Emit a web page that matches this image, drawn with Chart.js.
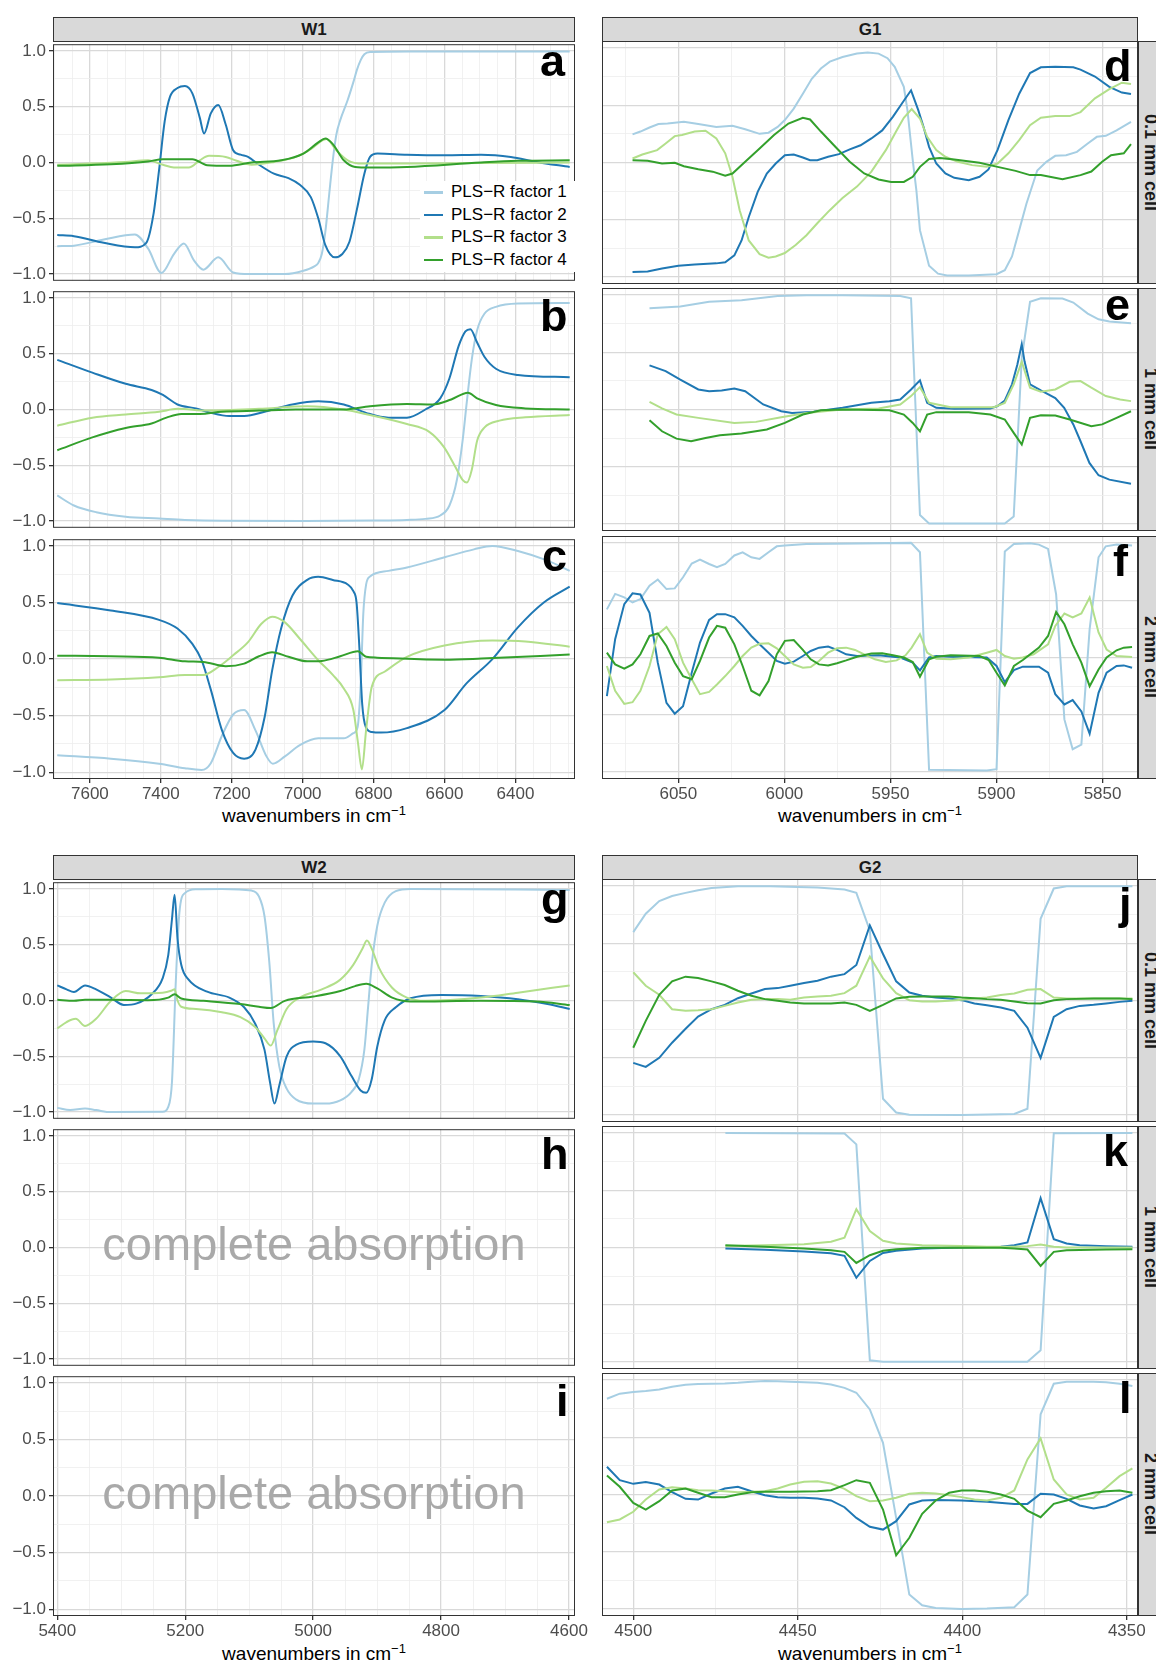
<!DOCTYPE html>
<html lang="en">
<head>
<meta charset="UTF-8">
<title>PLS-R factors</title>
<script src="https://cdn.jsdelivr.net/npm/chart.js"></script>
<style>
  body { margin: 0; width: 1156px; height: 1664px; position: relative; overflow: hidden; background: #fff;
         font-family: "Liberation Sans", Arial, sans-serif; }
  canvas { position: absolute; }
  .strip { position: absolute; background: #d9d9d9; border: 1px solid #333; box-sizing: border-box; color: #1a1a1a;
           font-weight: bold; font-size: 17px; display: flex; align-items: center; justify-content: center; }
  .side { writing-mode: vertical-rl; width: 24px; height: 243px; left: 1138px; font-size: 18px; }
  .xtitle { position: absolute; font-size: 19px; color: #000; transform: translate(-50%, -50%); white-space: nowrap; }
  .xtitle sup { font-size: 13px; }
  .legend { position: absolute; left: 420px; top: 181px; width: 155px; height: 91px; background: #fff; z-index: 5; }
  .legend div { height: 22.6px; display: flex; align-items: center; font-size: 17px; color: #000; }
  .legend span { display: inline-block; width: 19px; height: 2.5px; margin: 0 8px 0 4px; }
</style>
</head>
<body>

<div class="strip" style="left:53px; top:17px; width:522px; height:25px;">W1</div>
<div class="strip" style="left:602px; top:17px; width:536px; height:25px;">G1</div>
<div class="strip" style="left:53px; top:855px; width:522px; height:25px;">W2</div>
<div class="strip" style="left:602px; top:855px; width:536px; height:25px;">G2</div>

<div class="strip side" style="top:41px;">0.1 mm cell</div>
<div class="strip side" style="top:288px;">1 mm cell</div>
<div class="strip side" style="top:536px;">2 mm cell</div>
<div class="strip side" style="top:879px;">0.1 mm cell</div>
<div class="strip side" style="top:1126px;">1 mm cell</div>
<div class="strip side" style="top:1373px;">2 mm cell</div>

<div class="legend">
  <div><span style="background:#a6cee3"></span>PLS−R factor 1</div>
  <div><span style="background:#1f78b4"></span>PLS−R factor 2</div>
  <div><span style="background:#b2df8a"></span>PLS−R factor 3</div>
  <div><span style="background:#33a02c"></span>PLS−R factor 4</div>
</div>

<div class="xtitle" style="left:314px; top:815px;">wavenumbers in cm<sup>−1</sup></div>
<div class="xtitle" style="left:870px; top:815px;">wavenumbers in cm<sup>−1</sup></div>
<div class="xtitle" style="left:314px; top:1653px;">wavenumbers in cm<sup>−1</sup></div>
<div class="xtitle" style="left:870px; top:1653px;">wavenumbers in cm<sup>−1</sup></div>

<script>
// series colours (PLS-R factor 1..4)
const colors = ['#a6cee3', '#1f78b4', '#b2df8a', '#33a02c'];

// tick labels
const w1Labels = [7600, 7400, 7200, 7000, 6800, 6600, 6400];
const g1Labels = [6050, 6000, 5950, 5900, 5850];
const w2Labels = [5400, 5200, 5000, 4800, 4600];
const g2Labels = [4500, 4450, 4400, 4350];
const yLabels = [-1, -0.5, 0, 0.5, 1];

// W1, 0.1 mm cell (a)
const a1 = [[7692,-0.75],[7645,-0.745],[7561,-0.69],[7473,-0.645],[7436,-0.77],[7398,-0.99],[7363,-0.82],[7335,-0.725],[7306,-0.88],[7280,-0.96],[7238,-0.85],[7196,-0.985],[7150,-1.0],[7050,-1.0],[6998,-0.97],[6967,-0.93],[6956,-0.9],[6946,-0.82],[6936,-0.62],[6925,-0.28],[6915,0.02],[6905,0.25],[6894,0.38],[6873,0.56],[6857,0.72],[6847,0.83],[6836,0.92],[6826,0.97],[6810,0.99],[6700,0.995],[6500,0.995],[6247,0.995]];
const a2 = [[7692,-0.65],[7645,-0.66],[7561,-0.72],[7473,-0.76],[7441,-0.72],[7421,-0.47],[7405,-0.07],[7389,0.37],[7374,0.59],[7353,0.667],[7332,0.685],[7311,0.62],[7290,0.4],[7278,0.26],[7259,0.44],[7238,0.515],[7217,0.34],[7196,0.11],[7175,0.07],[7154,0.05],[7123,-0.02],[7081,-0.1],[7040,-0.14],[7008,-0.2],[6977,-0.31],[6956,-0.5],[6936,-0.74],[6909,-0.85],[6888,-0.82],[6868,-0.71],[6847,-0.42],[6826,-0.1],[6810,0.05],[6789,0.08],[6706,0.07],[6600,0.065],[6497,0.07],[6413,0.05],[6341,0.005],[6247,-0.04]];
const a3 = [[7692,-0.02],[7600,-0.01],[7500,0.005],[7436,0.02],[7394,-0.02],[7363,-0.045],[7321,-0.045],[7290,0.02],[7264,0.06],[7217,0.05],[7186,0.015],[7144,-0.02],[7081,0.005],[7019,0.05],[6977,0.12],[6946,0.195],[6933,0.21],[6905,0.11],[6873,0.02],[6831,-0.01],[6700,-0.01],[6500,-0.005],[6247,0.0]];
const a4 = [[7692,-0.03],[7541,-0.015],[7436,0.01],[7394,0.03],[7311,0.03],[7269,-0.025],[7207,-0.03],[7144,0.0],[7060,0.02],[6998,0.08],[6956,0.18],[6936,0.215],[6915,0.165],[6884,0.02],[6852,-0.04],[6810,-0.045],[6706,-0.04],[6497,0.0],[6393,0.015],[6247,0.02]];

// W1, 1 mm cell (b)
const b1 = [[7692,-0.77],[7645,-0.86],[7582,-0.92],[7499,-0.96],[7405,-0.977],[7332,-0.99],[7228,-0.997],[7000,-0.998],[6800,-0.995],[6706,-0.99],[6654,-0.98],[6612,-0.95],[6586,-0.86],[6565,-0.63],[6549,-0.28],[6537,0.07],[6523,0.45],[6508,0.71],[6487,0.86],[6455,0.92],[6393,0.95],[6247,0.955]];
const b2 = [[7692,0.445],[7593,0.33],[7499,0.23],[7426,0.175],[7394,0.13],[7353,0.045],[7301,0.01],[7259,-0.03],[7207,-0.058],[7165,-0.058],[7102,-0.015],[7029,0.045],[6956,0.073],[6884,0.045],[6821,-0.03],[6758,-0.073],[6706,-0.073],[6654,0.0],[6612,0.1],[6586,0.28],[6560,0.57],[6541,0.7],[6527,0.72],[6508,0.6],[6487,0.47],[6455,0.365],[6393,0.31],[6247,0.29]];
const b3 = [[7692,-0.145],[7593,-0.073],[7499,-0.044],[7405,-0.02],[7353,0.006],[7269,-0.01],[7123,0.006],[6987,0.03],[6884,0.0],[6810,-0.05],[6706,-0.13],[6643,-0.2],[6602,-0.335],[6570,-0.51],[6549,-0.63],[6537,-0.655],[6523,-0.54],[6508,-0.28],[6487,-0.16],[6445,-0.1],[6372,-0.07],[6247,-0.05]];
const b4 = [[7692,-0.365],[7593,-0.25],[7499,-0.166],[7426,-0.125],[7384,-0.073],[7342,-0.04],[7290,-0.04],[7228,-0.02],[7123,-0.01],[7019,0.0],[6884,0.0],[6810,0.03],[6706,0.05],[6633,0.045],[6581,0.09],[6534,0.15],[6508,0.1],[6455,0.04],[6372,0.01],[6247,0.0]];

// W1, 2 mm cell (c)
const c1 = [[7692,-0.85],[7541,-0.88],[7405,-0.925],[7332,-0.965],[7285,-0.98],[7259,-0.92],[7228,-0.68],[7196,-0.49],[7165,-0.45],[7133,-0.63],[7102,-0.86],[7084,-0.925],[7050,-0.86],[7008,-0.76],[6956,-0.7],[6884,-0.7],[6857,-0.655],[6845,-0.6],[6836,-0.2],[6829,0.4],[6821,0.66],[6810,0.73],[6758,0.78],[6706,0.81],[6600,0.9],[6517,0.97],[6465,1.0],[6393,0.955],[6309,0.87],[6247,0.78]];
const c2 = [[7692,0.495],[7541,0.43],[7405,0.347],[7353,0.27],[7311,0.135],[7285,-0.01],[7259,-0.27],[7228,-0.625],[7196,-0.83],[7165,-0.88],[7133,-0.8],[7107,-0.51],[7086,-0.1],[7060,0.28],[7029,0.56],[6987,0.7],[6956,0.727],[6915,0.7],[6873,0.66],[6857,0.6],[6848,0.5],[6840,0.1],[6832,-0.4],[6822,-0.6],[6805,-0.645],[6779,-0.65],[6706,-0.61],[6600,-0.45],[6538,-0.215],[6465,0.0],[6393,0.28],[6320,0.5],[6247,0.64]];
const c3 = [[7692,-0.186],[7541,-0.18],[7405,-0.16],[7332,-0.14],[7280,-0.14],[7238,-0.07],[7196,0.034],[7154,0.15],[7117,0.31],[7086,0.375],[7050,0.325],[7008,0.18],[6956,-0.01],[6915,-0.14],[6884,-0.26],[6857,-0.45],[6844,-0.74],[6833,-0.975],[6821,-0.625],[6805,-0.245],[6768,-0.11],[6706,0.02],[6600,0.12],[6465,0.165],[6372,0.156],[6247,0.11]];
const c4 = [[7692,0.03],[7541,0.025],[7405,0.013],[7332,-0.02],[7280,-0.025],[7217,-0.063],[7165,-0.04],[7123,0.025],[7086,0.06],[7040,0.02],[6987,-0.02],[6946,-0.016],[6894,0.025],[6844,0.07],[6821,0.02],[6790,0.013],[6600,-0.005],[6496,0.005],[6247,0.04]];

// G1, 0.1 mm cell (d)
const d1 = [[6071.6,0.245],[6067.9,0.27],[6063.6,0.305],[6059.4,0.335],[6055.1,0.34],[6047.4,0.355],[6040.6,0.335],[6032.1,0.31],[6024.5,0.32],[6018.5,0.29],[6011.7,0.25],[6007.5,0.26],[6003.2,0.31],[5999.8,0.37],[5995.6,0.47],[5991.3,0.6],[5987.1,0.73],[5982.8,0.82],[5978.6,0.88],[5972.6,0.92],[5965.8,0.95],[5960.7,0.96],[5955.6,0.95],[5951.4,0.91],[5948.0,0.835],[5943.7,0.66],[5942.0,0.457],[5939.5,0.02],[5937.8,-0.24],[5936.1,-0.59],[5931.8,-0.9],[5927.6,-0.97],[5923.3,-0.985],[5913.1,-0.985],[5900,-0.975],[5896.1,-0.94],[5892.7,-0.82],[5889.3,-0.59],[5885.9,-0.36],[5880.8,-0.07],[5876.5,0.006],[5872.3,0.058],[5867.2,0.064],[5862.1,0.093],[5857.0,0.166],[5852.7,0.224],[5848.5,0.233],[5843.4,0.28],[5836.6,0.355]];
const d2 = [[6071.6,-0.955],[6064.5,-0.95],[6057.7,-0.925],[6050,-0.9],[6042.3,-0.89],[6032.1,-0.88],[6027.9,-0.87],[6023.6,-0.81],[6020.2,-0.68],[6016.8,-0.475],[6012.6,-0.256],[6008.3,-0.096],[6004.1,-0.009],[5999.8,0.064],[5995.6,0.07],[5991.3,0.044],[5987.9,0.02],[5984.5,0.02],[5979.4,0.05],[5974.3,0.073],[5969.2,0.114],[5964.1,0.15],[5959.0,0.21],[5953.9,0.28],[5948.8,0.4],[5944.6,0.515],[5940.3,0.63],[5936.9,0.457],[5934.4,0.31],[5931.8,0.137],[5928.4,-0.009],[5924.1,-0.096],[5919.9,-0.134],[5913.1,-0.154],[5908.0,-0.125],[5903.8,-0.061],[5899.5,0.11],[5894.4,0.37],[5889.3,0.6],[5884.2,0.78],[5879.1,0.83],[5872.3,0.835],[5863.8,0.83],[5860.4,0.81],[5853.6,0.75],[5846.8,0.66],[5840.9,0.61],[5836.6,0.597]];
const d3 = [[6071.6,0.035],[6067.0,0.07],[6060.0,0.108],[6056.0,0.166],[6051.7,0.23],[6048.3,0.24],[6042.3,0.27],[6037.2,0.277],[6032.1,0.21],[6027.9,0.08],[6024.5,-0.125],[6021.1,-0.416],[6016.8,-0.68],[6011.7,-0.8],[6007.5,-0.83],[6004.1,-0.82],[5999.8,-0.79],[5994.7,-0.72],[5989.6,-0.635],[5984.5,-0.53],[5978.6,-0.416],[5972.6,-0.31],[5965.8,-0.21],[5959.0,-0.08],[5952.2,0.108],[5947.1,0.28],[5943.7,0.39],[5940.0,0.466],[5936.1,0.384],[5932.7,0.224],[5928.4,0.108],[5924.1,0.05],[5918.2,0.006],[5911.5,-0.023],[5904.7,-0.038],[5899.5,-0.009],[5894.4,0.08],[5889.3,0.195],[5884.2,0.326],[5879.1,0.39],[5872.3,0.405],[5865.5,0.405],[5860.4,0.44],[5853.6,0.56],[5846.8,0.64],[5840.9,0.696],[5836.6,0.684]];
const d4 = [[6071.6,0.02],[6064.5,0.015],[6057.7,-0.009],[6051.7,-0.003],[6047.4,-0.032],[6040.6,-0.058],[6033.8,-0.08],[6027.9,-0.116],[6024.5,-0.096],[6018.5,0.006],[6011.7,0.122],[6004.9,0.24],[5998.1,0.34],[5991.3,0.39],[5987.9,0.375],[5982.8,0.27],[5976.0,0.137],[5969.2,0.006],[5962.4,-0.096],[5955.6,-0.148],[5949.7,-0.17],[5943.7,-0.17],[5939.5,-0.125],[5936.1,-0.038],[5931.8,0.03],[5926.7,0.04],[5919.9,0.026],[5908.0,-0.003],[5899.5,-0.038],[5891.0,-0.073],[5884.2,-0.11],[5879.1,-0.11],[5868.9,-0.146],[5860.4,-0.11],[5855.3,-0.079],[5850.2,0.006],[5846.0,0.064],[5840.0,0.08],[5836.6,0.16]];

// G1, 1 mm cell (e)
const e1 = [[6063.6,0.883],[6049.1,0.898],[6035.5,0.94],[6020.2,0.953],[6003.2,0.99],[5989.6,0.997],[5972.6,0.997],[5945.4,0.99],[5940.3,0.97],[5936.1,-0.92],[5931.8,-0.994],[5896.1,-0.994],[5891.9,-0.933],[5888.1,0.45],[5884.2,0.94],[5879.1,0.97],[5868.9,0.968],[5863.8,0.933],[5857.0,0.837],[5851.9,0.787],[5846.8,0.767],[5836.6,0.752]];
const e2 = [[6063.6,0.385],[6056.0,0.335],[6049.1,0.26],[6040.6,0.175],[6035.5,0.16],[6029.6,0.166],[6023.6,0.184],[6018.5,0.16],[6010.0,0.044],[6001.5,-0.015],[5996.4,-0.03],[5986.2,-0.02],[5972.6,0.015],[5959.0,0.058],[5950.5,0.073],[5945.4,0.087],[5940.3,0.175],[5936.1,0.254],[5932.7,0.058],[5928.4,0.015],[5919.9,0.006],[5902.9,0.009],[5899.5,0.03],[5896.1,0.079],[5892.7,0.22],[5890.2,0.39],[5888.1,0.57],[5886.8,0.42],[5884.2,0.22],[5879.1,0.166],[5872.3,0.1],[5868.1,0.015],[5863.8,-0.13],[5860.4,-0.277],[5856.2,-0.466],[5851.9,-0.574],[5846.8,-0.612],[5836.6,-0.647]];
const e3 = [[6063.6,0.067],[6057.7,0.009],[6050.9,-0.044],[6040.6,-0.073],[6023.6,-0.117],[6013.4,-0.108],[6001.5,-0.067],[5989.6,-0.03],[5972.6,0.0],[5955.6,0.009],[5945.4,0.044],[5940.3,0.117],[5936.1,0.195],[5931.8,0.058],[5921.6,0.02],[5901.2,0.02],[5896.1,0.058],[5891.9,0.22],[5888.1,0.417],[5884.2,0.19],[5879.1,0.155],[5872.3,0.175],[5865.5,0.242],[5860.4,0.248],[5855.3,0.19],[5848.5,0.117],[5841.7,0.087],[5836.6,0.073]];
const e4 = [[6063.6,-0.093],[6057.7,-0.19],[6050.9,-0.254],[6044.0,-0.277],[6037.2,-0.248],[6030.4,-0.224],[6020.2,-0.21],[6008.3,-0.175],[5999.8,-0.117],[5991.3,-0.044],[5982.8,-0.006],[5972.6,0.0],[5950.5,-0.006],[5943.7,-0.044],[5939.5,-0.117],[5936.1,-0.19],[5932.7,-0.044],[5928.4,-0.023],[5913.1,-0.023],[5902.9,-0.044],[5896.1,-0.087],[5891.9,-0.204],[5888.1,-0.306],[5884.2,-0.073],[5879.1,-0.05],[5872.3,-0.052],[5865.5,-0.087],[5855.3,-0.146],[5850.2,-0.13],[5843.4,-0.073],[5836.6,-0.015]];

// G1, 2 mm cell (f)
const f1 = [[6083.7,0.42],[6079.8,0.555],[6075.5,0.525],[6071.6,0.48],[6067.9,0.51],[6063.6,0.626],[6059.7,0.68],[6055.6,0.597],[6051.7,0.603],[6047.8,0.7],[6043.7,0.82],[6039.8,0.854],[6035.5,0.816],[6031.8,0.787],[6027.9,0.816],[6023.6,0.89],[6019.7,0.918],[6015.6,0.874],[6011.7,0.86],[6007.5,0.918],[6003.6,0.97],[5999.8,0.977],[5989.6,0.99],[5940.3,1.0],[5936.1,0.918],[5931.8,-0.98],[5904.6,-0.985],[5900.0,-0.974],[5896.1,0.924],[5891.8,0.99],[5884.2,0.997],[5880.0,0.985],[5875.7,0.947],[5871.9,0.55],[5868.0,-0.54],[5864.1,-0.8],[5860.0,-0.76],[5856.1,0.247],[5851.9,0.874],[5848.5,0.97],[5843.4,0.985],[5836.1,0.977]];
const f2 = [[6083.7,-0.337],[6079.8,0.16],[6075.5,0.466],[6071.6,0.56],[6067.9,0.55],[6063.6,0.39],[6059.7,-0.045],[6055.6,-0.396],[6051.7,-0.49],[6047.8,-0.425],[6043.7,-0.133],[6039.8,0.13],[6035.5,0.328],[6031.8,0.378],[6027.9,0.378],[6023.6,0.35],[6019.7,0.276],[6015.6,0.188],[6011.7,0.115],[6007.5,0.042],[6003.6,-0.03],[5999.8,-0.054],[5995.6,-0.036],[5991.3,0.013],[5987.6,0.057],[5983.7,0.086],[5979.4,0.095],[5975.2,0.066],[5970.9,0.028],[5965.8,0.013],[5955.6,0.019],[5945.4,0.0],[5939.5,-0.045],[5936.1,-0.112],[5931.8,0.0],[5928.4,0.013],[5921.6,0.007],[5904.6,0.0],[5900.0,-0.074],[5896.1,-0.215],[5891.8,-0.11],[5887.6,-0.08],[5880.0,-0.08],[5875.7,-0.133],[5872.3,-0.32],[5868.0,-0.41],[5864.1,-0.372],[5860.0,-0.47],[5856.1,-0.664],[5851.9,-0.308],[5848.1,-0.133],[5843.4,-0.074],[5840.0,-0.069],[5836.1,-0.089]];
const f3 = [[6083.7,-0.074],[6079.8,-0.29],[6075.5,-0.405],[6071.6,-0.39],[6067.9,-0.29],[6063.6,-0.074],[6059.7,0.203],[6055.6,0.267],[6051.7,0.16],[6047.8,-0.045],[6043.7,-0.19],[6039.8,-0.32],[6035.5,-0.3],[6031.8,-0.235],[6027.9,-0.162],[6023.6,-0.074],[6019.7,0.013],[6015.6,0.086],[6011.7,0.12],[6007.5,0.124],[6003.6,0.08],[5999.8,0.013],[5995.6,-0.06],[5991.3,-0.089],[5987.6,-0.083],[5983.7,-0.03],[5979.4,0.042],[5975.2,0.08],[5970.9,0.086],[5966.7,0.066],[5962.4,0.028],[5957.3,-0.016],[5952.2,-0.04],[5947.1,-0.025],[5942.9,0.019],[5940.0,0.086],[5936.1,0.203],[5932.7,0.042],[5928.4,-0.01],[5921.6,-0.016],[5913.1,0.0],[5904.6,0.042],[5900.0,0.066],[5896.1,0.013],[5891.8,-0.01],[5887.6,0.0],[5882.5,0.028],[5875.7,0.115],[5872.3,0.276],[5868.0,0.384],[5864.1,0.35],[5860.0,0.384],[5856.1,0.524],[5851.9,0.218],[5848.1,0.07],[5843.4,0.013],[5836.1,0.004]];
const f4 = [[6083.7,0.042],[6079.8,-0.06],[6075.5,-0.098],[6071.6,-0.06],[6067.9,0.028],[6063.6,0.188],[6059.7,0.21],[6055.6,0.1],[6051.7,-0.045],[6047.8,-0.162],[6043.7,-0.19],[6039.8,-0.03],[6035.5,0.174],[6031.8,0.276],[6027.9,0.26],[6023.6,0.115],[6019.7,-0.074],[6015.6,-0.29],[6011.7,-0.33],[6007.5,-0.205],[6003.6,0.028],[5999.8,0.145],[5995.6,0.153],[5991.3,0.066],[5987.6,-0.016],[5983.7,-0.06],[5979.4,-0.069],[5975.2,-0.05],[5970.9,-0.025],[5965.8,0.007],[5959.0,0.034],[5953.9,0.036],[5948.8,0.019],[5943.7,0.0],[5939.5,-0.04],[5936.1,-0.168],[5931.8,-0.016],[5928.4,0.007],[5921.6,0.019],[5908.0,0.013],[5903.7,-0.022],[5900.0,-0.133],[5896.1,-0.244],[5891.8,-0.074],[5887.6,-0.022],[5880.0,0.086],[5875.7,0.188],[5871.9,0.398],[5868.0,0.29],[5864.1,0.115],[5860.0,-0.045],[5856.1,-0.25],[5851.9,-0.104],[5848.1,0.0],[5843.4,0.063],[5840.0,0.086],[5836.1,0.092]];

// W2, 0.1 mm cell (g)
const g1 = [[5400,-0.962],[5379.8,-0.982],[5356.6,-0.968],[5339.3,-0.982],[5316.1,-1.0],[5235.2,-0.997],[5226.5,-0.953],[5220.7,-0.73],[5214.9,0.143],[5209.1,0.787],[5200.5,0.962],[5183.1,0.997],[5142.6,1.0],[5096.3,0.985],[5084.8,0.933],[5076.1,0.757],[5068.6,0.348],[5061.6,-0.208],[5053.0,-0.588],[5041.4,-0.79],[5026.9,-0.886],[4999.7,-0.924],[4980.7,-0.924],[4957.5,-0.895],[4940.2,-0.82],[4928.6,-0.705],[4919.9,-0.44],[4914.1,-0.06],[4908.4,0.32],[4899.7,0.67],[4888.1,0.877],[4870.8,0.98],[4847.6,1.0],[4598.9,0.99]];
const g2 = [[5400,0.135],[5385.5,0.1],[5374.0,0.076],[5356.6,0.135],[5339.3,0.1],[5316.1,0.026],[5295.9,-0.04],[5275.6,-0.026],[5252.5,0.056],[5235.2,0.2],[5226.5,0.406],[5220.7,0.728],[5216.6,0.947],[5212.0,0.553],[5206.2,0.32],[5194.7,0.187],[5165.7,0.079],[5131.0,0.026],[5107.9,-0.061],[5090.6,-0.208],[5076.1,-0.44],[5067.4,-0.734],[5060.5,-0.924],[5053.0,-0.763],[5041.4,-0.5],[5026.9,-0.398],[4999.7,-0.368],[4980.7,-0.383],[4957.5,-0.5],[4940.2,-0.675],[4925.7,-0.807],[4917.0,-0.827],[4908.4,-0.705],[4899.7,-0.412],[4888.1,-0.178],[4870.8,-0.061],[4847.6,0.02],[4799.6,0.05],[4737.7,0.041],[4679.9,0.012],[4633.6,-0.032],[4598.9,-0.076]];
const g3 = [[5400,-0.251],[5385.5,-0.193],[5371.1,-0.164],[5356.6,-0.228],[5339.3,-0.164],[5316.1,-0.003],[5293.0,0.085],[5269.9,0.064],[5235.2,0.07],[5220.7,0.09],[5216.6,0.1],[5212.0,0.0],[5206.2,-0.056],[5183.1,-0.076],[5142.6,-0.105],[5113.7,-0.149],[5090.6,-0.237],[5076.1,-0.339],[5066.3,-0.404],[5055.9,-0.266],[5041.4,-0.076],[5021.1,0.026],[4986.4,0.1],[4957.5,0.187],[4937.3,0.319],[4922.8,0.465],[4915.9,0.538],[4908.4,0.465],[4896.8,0.29],[4876.5,0.114],[4853.4,0.026],[4824.5,-0.003],[4737.7,0.026],[4679.9,0.07],[4598.9,0.135]];
const g4 = [[5400,0.006],[5374,-0.003],[5356.6,0.006],[5316.1,0.006],[5258.3,0.003],[5226.5,0.026],[5216.6,0.056],[5206.2,0.018],[5171.5,-0.003],[5113.7,-0.032],[5084.8,-0.056],[5066.3,-0.067],[5044.3,-0.003],[4999.7,0.035],[4957.5,0.085],[4934.4,0.129],[4917.0,0.149],[4899.7,0.108],[4876.5,0.026],[4847.6,-0.009],[4737.7,-0.003],[4650.9,-0.009],[4598.9,-0.041]];

// G2, 0.1 mm cell (j)
const j1 = [[4500,0.596],[4496.2,0.757],[4492.1,0.868],[4488.2,0.912],[4484.1,0.939],[4480.3,0.962],[4476.2,0.982],[4468.2,0.997],[4458.3,0.997],[4450.1,0.99],[4444.0,0.985],[4439.9,0.977],[4435.8,0.968],[4432.2,0.939],[4428.1,0.611],[4424.1,-0.857],[4420.1,-0.977],[4416.1,-0.997],[4400.2,-1.0],[4384.2,-0.99],[4380.2,-0.944],[4376.2,0.713],[4372.2,0.977],[4368.3,0.997],[4348.3,0.997]];
const j2 = [[4500,-0.544],[4496.2,-0.579],[4492.1,-0.5],[4488.2,-0.368],[4484.1,-0.246],[4480.3,-0.14],[4476.2,-0.076],[4472.2,-0.038],[4468.2,0.02],[4464.1,0.061],[4460.0,0.1],[4456.1,0.108],[4452.3,0.129],[4448.1,0.152],[4444.0,0.173],[4439.9,0.208],[4435.8,0.23],[4432.2,0.31],[4428.1,0.655],[4424.1,0.406],[4420.1,0.167],[4416.1,0.07],[4412.2,0.041],[4408.1,0.026],[4404.0,0.018],[4400.2,0.003],[4396.3,-0.026],[4392.5,-0.041],[4388.3,-0.061],[4384.2,-0.09],[4380.2,-0.237],[4376.2,-0.5],[4372.2,-0.143],[4368.3,-0.076],[4364.3,-0.047],[4360.1,-0.038],[4356.3,-0.026],[4352.2,-0.012],[4348.3,-0.003]];
const j3 = [[4500,0.246],[4496.2,0.129],[4492.1,0.05],[4488.2,-0.076],[4484.1,-0.09],[4480.3,-0.085],[4476.2,-0.076],[4472.2,-0.047],[4468.2,-0.018],[4464.1,0.006],[4460.0,0.012],[4456.1,0.012],[4452.3,0.006],[4448.1,0.026],[4444.0,0.035],[4439.9,0.041],[4435.8,0.064],[4432.2,0.129],[4428.1,0.383],[4424.1,0.193],[4420.1,0.064],[4416.1,0.003],[4412.2,-0.009],[4408.1,-0.009],[4404.0,-0.003],[4400.2,0.006],[4396.3,0.018],[4392.5,0.026],[4388.3,0.047],[4384.2,0.061],[4380.2,0.094],[4376.2,0.1],[4372.2,0.026],[4368.3,0.018],[4348.3,0.018]];
const j4 = [[4500,-0.412],[4496.2,-0.178],[4492.1,0.05],[4488.2,0.167],[4484.1,0.208],[4480.3,0.196],[4476.2,0.167],[4472.2,0.135],[4468.2,0.085],[4464.1,0.041],[4460.0,0.012],[4456.1,-0.003],[4452.3,-0.018],[4448.1,-0.026],[4444.0,-0.026],[4439.9,-0.026],[4435.8,-0.018],[4432.2,-0.038],[4428.1,-0.09],[4424.1,-0.038],[4420.1,0.018],[4416.1,0.032],[4412.2,0.035],[4408.1,0.035],[4404.0,0.035],[4400.2,0.026],[4396.3,0.02],[4392.5,0.012],[4388.3,0.006],[4384.2,-0.009],[4380.2,-0.023],[4376.2,-0.026],[4372.2,0.003],[4368.3,0.012],[4360.1,0.018],[4352.2,0.018],[4348.3,0.012]];

// G2, 1 mm cell (k)
const k1 = [[4472,1.0],[4435.8,0.995],[4432.2,0.9],[4428.1,-0.984],[4424.1,-0.996],[4380.2,-0.996],[4376.2,-0.896],[4372.2,0.996],[4348.3,1.0]];
const k2 = [[4472,-0.009],[4460,-0.02],[4448.1,-0.035],[4439.9,-0.05],[4435.8,-0.073],[4432.2,-0.264],[4428.1,-0.117],[4424.1,-0.047],[4420.1,-0.029],[4412.2,-0.009],[4400.2,0.0],[4388.3,0.006],[4384.2,0.02],[4380.2,0.044],[4376.2,0.43],[4372.2,0.073],[4368.3,0.035],[4364.3,0.02],[4356.3,0.012],[4348.3,0.006]];
const k3 = [[4472,0.012],[4460,0.02],[4448.1,0.029],[4439.9,0.05],[4435.8,0.085],[4432.2,0.334],[4428.1,0.143],[4424.1,0.059],[4420.1,0.035],[4412.2,0.02],[4400.2,0.012],[4392.5,0.006],[4384.2,0.006],[4380.2,0.012],[4376.2,0.026],[4372.2,0.006],[4368.3,0.0],[4348.3,0.0]];
const k4 = [[4472,0.02],[4460,0.006],[4448.1,-0.009],[4439.9,-0.023],[4435.8,-0.038],[4432.2,-0.135],[4428.1,-0.067],[4424.1,-0.029],[4420.1,-0.015],[4412.2,-0.003],[4388.3,-0.003],[4384.2,-0.009],[4380.2,-0.018],[4376.2,-0.161],[4372.2,-0.038],[4368.3,-0.023],[4356.3,-0.018],[4348.3,-0.015]];

// G2, 2 mm cell (l)
const l1 = [[4508,0.835],[4504.1,0.88],[4500,0.894],[4496.2,0.902],[4492.1,0.917],[4488.2,0.94],[4484.1,0.958],[4480.3,0.964],[4476.2,0.966],[4472.2,0.969],[4468.2,0.975],[4464.1,0.984],[4460,0.99],[4456.1,0.987],[4452.3,0.984],[4448.1,0.98],[4444,0.975],[4439.9,0.96],[4435.8,0.93],[4432.2,0.888],[4428.1,0.742],[4424.1,0.451],[4420.1,-0.204],[4416.1,-0.873],[4412.2,-0.966],[4408.1,-0.99],[4400.2,-0.999],[4392.5,-0.995],[4384.2,-0.984],[4380.2,-0.873],[4376.2,0.7],[4372.2,0.966],[4368.3,0.984],[4360.1,0.984],[4356.3,0.98],[4352.2,0.966],[4348.3,0.946]];
const l2 = [[4508,0.242],[4504.1,0.125],[4500,0.093],[4496.2,0.108],[4492.1,0.087],[4488.2,0.02],[4484.1,-0.038],[4480.3,-0.044],[4476.2,0.009],[4472.2,0.052],[4468.2,0.067],[4464.1,0.029],[4460,-0.006],[4456.1,-0.023],[4452.3,-0.029],[4448.1,-0.029],[4444,-0.035],[4439.9,-0.052],[4435.8,-0.111],[4432.2,-0.204],[4428.1,-0.282],[4424.1,-0.306],[4420.1,-0.233],[4416.1,-0.087],[4412.2,-0.052],[4408.1,-0.049],[4400.2,-0.052],[4392.5,-0.064],[4384.2,-0.082],[4380.2,-0.082],[4376.2,0.006],[4372.2,0.0],[4368.3,-0.038],[4364.3,-0.096],[4360.1,-0.122],[4356.3,-0.102],[4352.2,-0.049],[4348.3,0.0]];
const l3 = [[4508,-0.242],[4504.1,-0.218],[4500,-0.151],[4496.2,-0.044],[4492.1,0.044],[4488.2,0.064],[4484.1,0.052],[4480.3,0.038],[4476.2,0.035],[4472.2,0.029],[4468.2,0.02],[4464.1,0.023],[4460,0.029],[4456.1,0.052],[4452.3,0.087],[4448.1,0.111],[4444,0.116],[4439.9,0.096],[4435.8,0.049],[4432.2,-0.015],[4428.1,-0.058],[4424.1,-0.052],[4420.1,-0.029],[4416.1,0.006],[4412.2,0.015],[4408.1,0.009],[4404,-0.006],[4400.2,-0.023],[4396.3,-0.044],[4392.5,-0.052],[4388.3,-0.029],[4384.2,0.035],[4380.2,0.306],[4376.2,0.489],[4372.2,0.131],[4368.3,0.0],[4364.3,-0.044],[4360.1,-0.029],[4356.3,0.058],[4352.2,0.16],[4348.3,0.227]];
const l4 = [[4508,0.166],[4504.1,0.067],[4500,-0.073],[4496.2,-0.131],[4492.1,-0.058],[4488.2,0.035],[4484.1,0.052],[4480.3,0.015],[4476.2,-0.023],[4472.2,-0.023],[4468.2,0.0],[4464.1,0.02],[4460,0.023],[4452.3,0.023],[4444,0.029],[4439.9,0.038],[4435.8,0.082],[4432.2,0.125],[4428.1,0.102],[4424.1,-0.131],[4420.1,-0.53],[4416.1,-0.378],[4412.2,-0.169],[4408.1,-0.052],[4404,0.015],[4400.2,0.035],[4396.3,0.035],[4392.5,0.023],[4388.3,0.0],[4384.2,-0.038],[4380.2,-0.14],[4376.2,-0.198],[4372.2,-0.082],[4368.3,-0.052],[4364.3,-0.015],[4360.1,0.015],[4356.3,0.029],[4352.2,0.035],[4348.3,0.015]];

Chart.defaults.font.family = '"Liberation Sans", Arial, sans-serif';

const MAJOR = '#d9d9d9', MINOR = '#eeeeee', INK = '#4d4d4d';

function gridVals(min, max, step) {
    const out = [];
    for (let v = Math.ceil(min / step) * step; v <= max + 1e-9; v += step) out.push(+v.toFixed(4));
    return out;
}

function fmtY(v) {
    return (v < 0 ? '\u2212' : '') + Math.abs(v).toFixed(1);
}

// border round the panel, panel letter, and the "complete absorption" note
const panelDeco = {
    id: 'panelDeco',
    afterDraw(chart, args, opts) {
        const { ctx, chartArea: a } = chart;
        ctx.save();
        if (opts.note) {
            ctx.font = '47px "Liberation Sans", Arial, sans-serif';
            ctx.fillStyle = '#a9a9a9';
            ctx.textAlign = 'center';
            ctx.textBaseline = 'alphabetic';
            ctx.fillText(opts.note, (a.left + a.right) / 2, chart.scales.y.getPixelForValue(0) + 12.5);
        }
        if (opts.letter) {
            ctx.font = 'bold 45px "Liberation Sans", Arial, sans-serif';
            ctx.fillStyle = '#000';
            ctx.textAlign = 'left';
            ctx.textBaseline = 'alphabetic';
            const m = ctx.measureText(opts.letter);
            ctx.fillText(opts.letter, a.right - 9 - m.actualBoundingBoxRight, a.top + 7.5 + m.actualBoundingBoxAscent);
        }
        ctx.strokeStyle = '#333';
        ctx.lineWidth = 1;
        ctx.strokeRect(a.left + 0.5, a.top + 0.5, a.width - 1, a.height - 1);
        ctx.restore();
    }
};

function panel(p) {
    const left = p.col === 'L';
    const cv = document.createElement('canvas');
    const w = left ? 600 : 566;
    const h = 10 + 243 + (p.bottom ? 30 : 10);
    cv.width = w; cv.height = h;
    cv.style.left = (left ? 0 : 590) + 'px';
    cv.style.top = (p.top - 10) + 'px';
    document.body.appendChild(cv);

    const isMajorX = v => p.labels.includes(v);
    const isMajorY = v => yLabels.includes(v);

    new Chart(cv, {
        type: 'line',
        data: {
            datasets: p.series.map((pts, i) => ({
                data: pts.map(q => ({ x: q[0], y: q[1] })),
                borderColor: colors[i],
                borderWidth: 2,
                pointRadius: 0,
                fill: false,
                tension: 0,
                cubicInterpolationMode: p.smooth ? 'monotone' : 'default',
                order: 4 - i
            }))
        },
        options: {
            responsive: false,
            animation: false,
            devicePixelRatio: 1,
            events: [],
            layout: {
                autoPadding: false,
                padding: { left: left ? 0 : 12, right: left ? 25 : 18, top: 10, bottom: p.bottom ? 0 : 10 }
            },
            plugins: {
                legend: { display: false },
                tooltip: { enabled: false },
                panelDeco: { letter: p.letter, note: p.note }
            },
            scales: {
                x: {
                    type: 'linear', reverse: true, min: p.xmin, max: p.xmax,
                    afterBuildTicks: s => { s.ticks = gridVals(p.xmin, p.xmax, p.step).map(v => ({ value: v })); },
                    afterFit: s => { s.height = p.bottom ? 30 : 0; },
                    border: { display: false },
                    grid: {
                        color: c => isMajorX(c.tick.value) ? MAJOR : MINOR,
                        lineWidth: c => isMajorX(c.tick.value) ? 1.3 : 0.8,
                        drawTicks: !!p.bottom, tickLength: 4,
                        tickColor: c => isMajorX(c.tick.value) ? '#333' : 'rgba(0,0,0,0)'
                    },
                    ticks: {
                        display: !!p.bottom, autoSkip: false, maxRotation: 0, padding: 1,
                        color: INK, font: { size: 17 },
                        callback: v => isMajorX(v) ? String(v) : ''
                    }
                },
                y: {
                    type: 'linear', min: -1.06, max: 1.06,
                    afterBuildTicks: s => { s.ticks = gridVals(-1, 1, 0.25).map(v => ({ value: v })); },
                    afterFit: s => { s.width = left ? 53 : 0; },
                    border: { display: false },
                    grid: {
                        color: c => isMajorY(c.tick.value) ? MAJOR : MINOR,
                        lineWidth: c => isMajorY(c.tick.value) ? 1.3 : 0.8,
                        drawTicks: left, tickLength: 4,
                        tickColor: c => isMajorY(c.tick.value) ? '#333' : 'rgba(0,0,0,0)'
                    },
                    ticks: {
                        display: left, autoSkip: false, padding: 3,
                        color: INK, font: { size: 17 },
                        callback: v => isMajorY(v) ? fmtY(v) : ''
                    }
                }
            }
        },
        plugins: [panelDeco]
    });
}

const W1 = { col: 'L', xmin: 6232, xmax: 7704, step: 50, labels: w1Labels, smooth: true };
const G1 = { col: 'R', xmin: 5833.3, xmax: 6086, step: 25, labels: g1Labels, smooth: false };
const W2 = { col: 'L', xmin: 4590.6, xmax: 5406.7, step: 50, labels: w2Labels, smooth: true };
const G2 = { col: 'R', xmin: 4346.6, xmax: 4509.5, step: 25, labels: g2Labels, smooth: false };

panel({ ...W1, top: 41,  letter: 'a', series: [a1, a2, a3, a4] });
panel({ ...W1, top: 288, letter: 'b', series: [b1, b2, b3, b4] });
panel({ ...W1, top: 536, letter: 'c', series: [c1, c2, c3, c4], bottom: true });
panel({ ...G1, top: 41,  letter: 'd', series: [d1, d2, d3, d4] });
panel({ ...G1, top: 288, letter: 'e', series: [e1, e2, e3, e4] });
panel({ ...G1, top: 536, letter: 'f', series: [f1, f2, f3, f4], bottom: true });
panel({ ...W2, top: 879,  letter: 'g', series: [g1, g2, g3, g4] });
panel({ ...W2, top: 1126, letter: 'h', series: [], note: 'complete absorption' });
panel({ ...W2, top: 1373, letter: 'i', series: [], note: 'complete absorption', bottom: true });
panel({ ...G2, top: 879,  letter: 'j', series: [j1, j2, j3, j4] });
panel({ ...G2, top: 1126, letter: 'k', series: [k1, k2, k3, k4] });
panel({ ...G2, top: 1373, letter: 'l', series: [l1, l2, l3, l4], bottom: true });
</script>
</body>
</html>
